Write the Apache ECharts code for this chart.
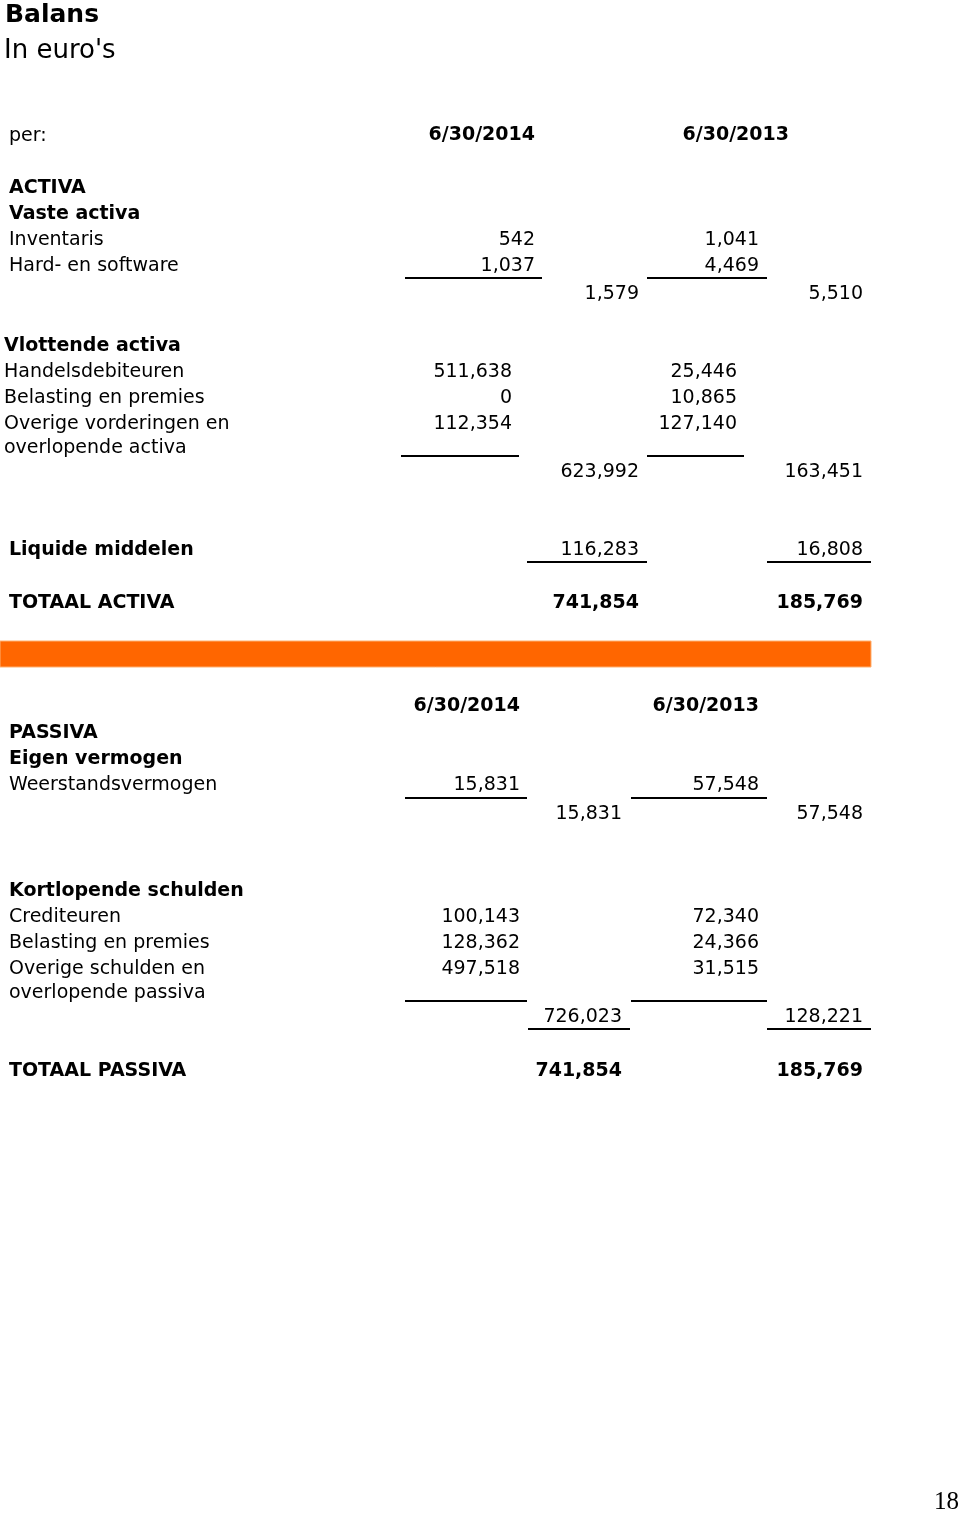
<!DOCTYPE html>
<html>
<head>
<meta charset="utf-8">
<title>Balans</title>
<script src="https://cdn.jsdelivr.net/npm/echarts@6/dist/echarts.min.js"></script>
<style>
  html, body { margin: 0; padding: 0; background: #fff; }
  #main { width: 960px; height: 1514px; }
</style>
</head>
<body>
<div id="main"></div>
<script>
// balans data
var dates = ['6/30/2014', '6/30/2013'];

var vasteLabels = ['Inventaris', 'Hard- en software'];
var vaste2014 = [542, 1037];
var vaste2013 = [1041, 4469];
var vasteTotaal = [1579, 5510];

var vlottendLabels = ['Handelsdebiteuren', 'Belasting en premies', 'Overige vorderingen en', 'overlopende activa'];
var vlottend2014 = [511638, 0, 112354];
var vlottend2013 = [25446, 10865, 127140];
var vlottendTotaal = [623992, 163451];

var liquide = [116283, 16808];
var totaalActiva = [741854, 185769];

var eigenLabels = ['Weerstandsvermogen'];
var eigen2014 = [15831];
var eigen2013 = [57548];
var eigenTotaal = [15831, 57548];

var kortLabels = ['Crediteuren', 'Belasting en premies', 'Overige schulden en', 'overlopende passiva'];
var kort2014 = [100143, 128362, 497518];
var kort2013 = [72340, 24366, 31515];
var kortTotaal = [726023, 128221];

var totaalPassiva = [741854, 185769];

// layout
var FONT = 'Verdana, "DejaVu Sans", sans-serif';
var DY = 2; // tekst iets omlaag
var cells = [];   // teksten
var rules = [];   // streepjes
function fmt(v) { return Number(v).toLocaleString('en-US'); }
function txt(x, y, t, align, bold, size, family) {
    cells.push({x: x, y: y + DY, t: t, align: align || 'left', bold: !!bold, size: size || 19, family: family || FONT});
}
function rule(x1, x2, y) { rules.push([x1, x2, y]); }

txt(5, 13, 'Balans', 'left', true, 25);
txt(4, 49, "In euro's", 'left', false, 26);

// ACTIVA
txt(9, 134, 'per:');
txt(535, 133, dates[0], 'right', true, 19);
txt(789, 133, dates[1], 'right', true, 19);
txt(9, 186, 'ACTIVA', 'left', true);
txt(9, 212, 'Vaste activa', 'left', true);
vasteLabels.forEach(function (l, i) {
    var y = 238 + i * 26;
    txt(9, y, l);
    txt(535, y, fmt(vaste2014[i]), 'right');
    txt(759, y, fmt(vaste2013[i]), 'right');
});
rule(405, 542, 278); rule(647, 767, 278);
txt(639, 292, fmt(vasteTotaal[0]), 'right');
txt(863, 292, fmt(vasteTotaal[1]), 'right');

txt(4, 344, 'Vlottende activa', 'left', true);
var vlY = [370, 396, 422, 446];
vlottendLabels.forEach(function (l, i) {
    txt(4, vlY[i], l);
    if (i < vlottend2014.length) {
        txt(512, vlY[i], fmt(vlottend2014[i]), 'right');
        txt(737, vlY[i], fmt(vlottend2013[i]), 'right');
    }
});
rule(401, 519, 456); rule(647, 744, 456);
txt(639, 470, fmt(vlottendTotaal[0]), 'right');
txt(863, 470, fmt(vlottendTotaal[1]), 'right');

txt(9, 548, 'Liquide middelen', 'left', true);
txt(639, 548, fmt(liquide[0]), 'right');
txt(863, 548, fmt(liquide[1]), 'right');
rule(527, 647, 562); rule(767, 871, 562);

txt(9, 601, 'TOTAAL ACTIVA', 'left', true);
txt(639, 601, fmt(totaalActiva[0]), 'right', true);
txt(863, 601, fmt(totaalActiva[1]), 'right', true);

// PASSIVA
txt(520, 704, dates[0], 'right', true, 19);
txt(759, 704, dates[1], 'right', true, 19);
txt(9, 731, 'PASSIVA', 'left', true);
txt(9, 757, 'Eigen vermogen', 'left', true);
eigenLabels.forEach(function (l, i) {
    var y = 783 + i * 26;
    txt(9, y, l);
    txt(520, y, fmt(eigen2014[i]), 'right');
    txt(759, y, fmt(eigen2013[i]), 'right');
});
rule(405, 527, 798); rule(631, 767, 798);
txt(622, 812, fmt(eigenTotaal[0]), 'right');
txt(863, 812, fmt(eigenTotaal[1]), 'right');

txt(9, 889, 'Kortlopende schulden', 'left', true);
var kY = [915, 941, 967, 991];
kortLabels.forEach(function (l, i) {
    txt(9, kY[i], l);
    if (i < kort2014.length) {
        txt(520, kY[i], fmt(kort2014[i]), 'right');
        txt(759, kY[i], fmt(kort2013[i]), 'right');
    }
});
rule(405, 527, 1001); rule(631, 767, 1001);
txt(622, 1015, fmt(kortTotaal[0]), 'right');
txt(863, 1015, fmt(kortTotaal[1]), 'right');
rule(528, 630, 1029); rule(767, 871, 1029);

txt(9, 1069, 'TOTAAL PASSIVA', 'left', true);
txt(622, 1069, fmt(totaalPassiva[0]), 'right', true);
txt(863, 1069, fmt(totaalPassiva[1]), 'right', true);

txt(959, 1500, '18', 'right', false, 25, '"Liberation Serif", "DejaVu Serif", serif');

var myChart = echarts.init(document.getElementById('main'));
myChart.setOption({
    animation: false,
    grid: { left: 0, right: 0, top: 0, bottom: 0 },
    xAxis: { type: 'value', min: 0, max: 960, show: false },
    yAxis: { type: 'value', min: 0, max: 1514, inverse: true, show: false },
    series: [
        {
            // oranje balk
            type: 'custom',
            silent: true,
            data: [[0, 641, 871, 667]],
            renderItem: function (params, api) {
                var a = api.coord([api.value(0), api.value(1)]);
                var b = api.coord([api.value(2), api.value(3)]);
                return {
                    type: 'rect',
                    shape: { x: a[0], y: a[1], width: b[0] - a[0], height: b[1] - a[1] },
                    style: { fill: '#ff6600', stroke: '#ffb070', lineWidth: 1 }
                };
            }
        },
        {
            // streepjes
            type: 'custom',
            silent: true,
            data: rules,
            renderItem: function (params, api) {
                var a = api.coord([api.value(0), api.value(2)]);
                var b = api.coord([api.value(1), api.value(2)]);
                return {
                    type: 'line',
                    shape: { x1: a[0], y1: a[1], x2: b[0], y2: b[1] },
                    style: { stroke: '#000', lineWidth: 2 }
                };
            }
        },
        {
            // teksten
            type: 'custom',
            silent: true,
            data: cells.map(function (c) { return [c.x, c.y]; }),
            renderItem: function (params, api) {
                var c = cells[params.dataIndex];
                var p = api.coord([api.value(0), api.value(1)]);
                return {
                    type: 'text',
                    x: p[0],
                    y: p[1],
                    style: {
                        text: c.t,
                        align: c.align,
                        verticalAlign: 'middle',
                        fill: '#000',
                        font: (c.bold ? 'bold ' : '') + c.size + 'px ' + c.family
                    }
                };
            }
        }
    ]
});
</script>
</body>
</html>
